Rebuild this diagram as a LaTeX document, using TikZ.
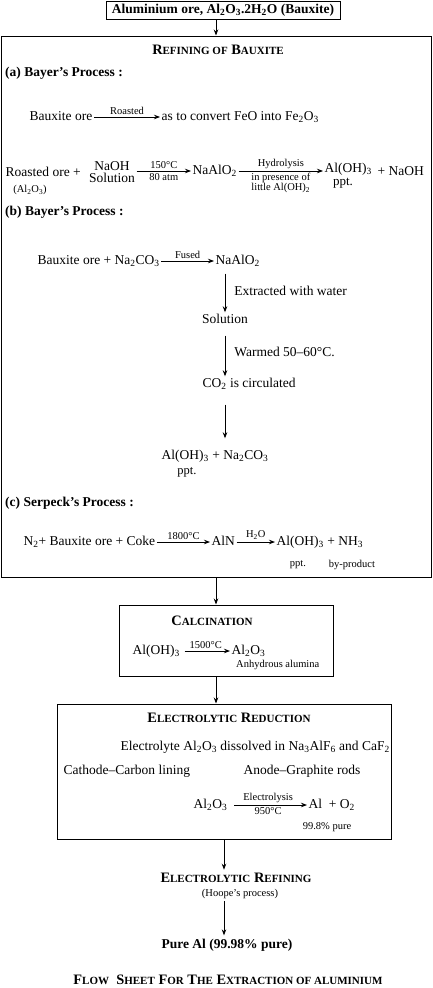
\documentclass[tikz,border=0pt]{standalone}
\usepackage{fontspec}
\setmainfont{Liberation Serif}
\usetikzlibrary{arrows.meta,positioning}

\newcommand{\sbs}[1]{\textsubscript{#1}}
\newcommand{\lsc}[1]{{\fontsize{11}{11}\selectfont #1}}

\tikzset{
  txt/.style={inner sep=1.5pt, text height=9pt, text depth=3pt, anchor=west},
  lab/.style={font=\fontsize{10.5}{11}\selectfont, inner sep=2pt},
  hd/.style={font=\fontsize{14.4}{15}\selectfont\bfseries},
  proc/.style={font=\fontsize{13.5}{15}\selectfont\bfseries, anchor=west, inner sep=0pt},
  frame/.style={draw, line width=1pt, inner sep=0pt},
  arr/.style={-{Stealth[length=6pt,width=4.5pt]}, line width=0.8pt}
}

\begin{document}
\begin{tikzpicture}[x=1pt,y=-1pt,font=\fontsize{13.5}{15}\selectfont]
\useasboundingbox (0,0) rectangle (432,988);

\node[frame, minimum width=234pt, minimum height=18pt, font=\fontsize{13.5}{15}\selectfont\bfseries] (ore) at (223,10) {Aluminium ore, Al\sbs{2}O\sbs{3}.2H\sbs{2}O (Bauxite)};
\node[frame, minimum width=430pt, minimum height=541pt] (refine) at (216,306.5) {};
\draw[arr] (refine.north |- ore.south) -- (refine.north);
\node[hd] (refh) at (218,50) {R\lsc{EFINING OF} B\lsc{AUXITE}};

% (a)
\node[proc] (pa) at (5,73) {(a) Bayer's Process :};
\node[txt] (ba1) at (28,117) {Bauxite ore};
\node[txt] (cv) at (160,117) {as to convert FeO into Fe\sbs{2}O\sbs{3}};
\draw[arr] (ba1.east) -- node[lab,above]{Roasted} (cv.west);

\node[txt] (ro) at (4,173) {Roasted ore +};
\node[lab] (roal) at (30,190) {(Al\sbs{2}O\sbs{3})};
\node[align=center, inner sep=1.5pt] (naoh) at (112,172) {NaOH\\[-3pt]Solution};
\node[txt] (na1) at (191,171) {NaAlO\sbs{2}};
\node[txt] (aoh1) at (323,169) {Al(OH)\sbs{3}};
\node[font=\fontsize{13}{13}\selectfont] (pp1) at (343,183) {ppt.};
\node[txt] (nah) at (376,172) {+ NaOH};
\draw[arr] (naoh.east |- na1.west) -- node[lab,above]{150°C} node[lab,below]{80 atm} (na1.west);
\draw[arr] (na1.east) -- node[lab,above]{Hydrolysis}
  node[lab,below,align=center]{in presence of\\[-1pt]little Al(OH)\sbs{2}} (na1.east -| aoh1.west);

% (b)
\node[proc] (pb) at (5,212) {(b) Bayer's Process :};
\node[txt] (bo2) at (36,261) {Bauxite ore + Na\sbs{2}CO\sbs{3}};
\node[txt] (na2) at (214,261) {NaAlO\sbs{2}};
\draw[arr] (bo2.east) -- node[lab,above]{Fused} (na2.west);
\node[txt, anchor=center] (sol) at (225,320) {Solution};
\node[txt] (co2) at (201,384) {CO\sbs{2} is circulated};
\node[txt, anchor=center] (pr2) at (215,456) {Al(OH)\sbs{3} + Na\sbs{2}CO\sbs{3}};
\node[font=\fontsize{12.5}{13}\selectfont] (pp2) at (187,472) {ppt.};
\draw[arr, shorten <=5pt] (sol.north |- na2.south) -- node[right, inner sep=9pt]{Extracted with water} (sol.north);
\draw[arr, shorten <=8pt] (sol.south) -- node[right, inner sep=9pt]{Warmed 50–60°C.} (sol.south |- co2.north);
\draw[arr, shorten <=13pt, shorten >=10pt] (sol.south |- co2.south) -- (sol.south |- pr2.north);

% (c)
\node[proc] (pc) at (5,503) {(c) Serpeck's Process :};
\node[txt] (n2) at (22,542) {N\sbs{2}+ Bauxite ore + Coke};
\node[txt] (aln) at (210,542) {AlN};
\node[txt] (aoh3) at (275,542) {Al(OH)\sbs{3} + NH\sbs{3}};
\draw[arr] (n2.east) -- node[lab,above]{1800°C} (aln.west);
\draw[arr] (aln.east) -- node[lab,above]{H\sbs{2}O} (aoh3.west);
\node[lab] (pp3) at (298,565) {ppt.};
\node[lab] (byp) at (352,565) {by-product};

% calcination
\node[frame, minimum width=214pt, minimum height=71pt] (calc) at (226,640.5) {};
\draw[arr] (refine.south) -- (refine.south |- calc.north);
\node[hd] (calh) at (212,621) {C\lsc{ALCINATION}};
\node[txt] (caoh) at (131,651) {Al(OH)\sbs{3}};
\node[txt] (cal2) at (230,651) {Al\sbs{2}O\sbs{3}};
\draw[arr, shorten <=3pt] (caoh.east) -- node[lab,above]{1500°C} (cal2.west);
\node[lab, anchor=west] (anh) at (234,665) {Anhydrous alumina};

% electrolytic reduction
\node[frame, minimum width=334pt, minimum height=135pt] (elec) at (224,771.5) {};
\draw[arr] (refine.south |- calc.south) -- (refine.south |- elec.north);
\node[hd] (elh) at (229,718) {E\lsc{LECTROLYTIC} R\lsc{EDUCTION}};
\node[txt] (ely) at (119,747) {Electrolyte Al\sbs{2}O\sbs{3} dissolved in Na\sbs{3}AlF\sbs{6} and CaF\sbs{2}};
\node[txt] (cat) at (62,771) {Cathode–Carbon lining};
\node[txt] (ano) at (242,771) {Anode–Graphite rods};
\node[txt] (eal) at (192,805) {Al\sbs{2}O\sbs{3}};
\node[txt] (alo) at (307,805) {Al~ + O\sbs{2}};
\draw[arr, shorten <=5pt] (eal.east) -- node[lab,above]{Electrolysis} node[lab,below]{950°C} (alo.west);
\node[lab] (pur) at (327,827) {99.8\% pure};

% refining
\node[hd] (erh) at (236,878) {E\lsc{LECTROLYTIC} R\lsc{EFINING}};
\node[lab] (hoo) at (240,894) {(Hoope's process)};
\node[font=\fontsize{13.5}{15}\selectfont\bfseries] (pal) at (227,945) {Pure Al (99.98\% pure)};
\draw[arr] (elec.south) -- (elec.south |- erh.north);
\draw[arr] (elec.south |- hoo.south) -- (elec.south |- pal.north);

\node[hd, inner sep=0pt] (foot) at (228,980) {F\lsc{LOW}\ \ S\lsc{HEET} F\lsc{OR} T\lsc{HE} E\lsc{XTRACTION OF ALUMINIUM}};
\end{tikzpicture}
\end{document}
